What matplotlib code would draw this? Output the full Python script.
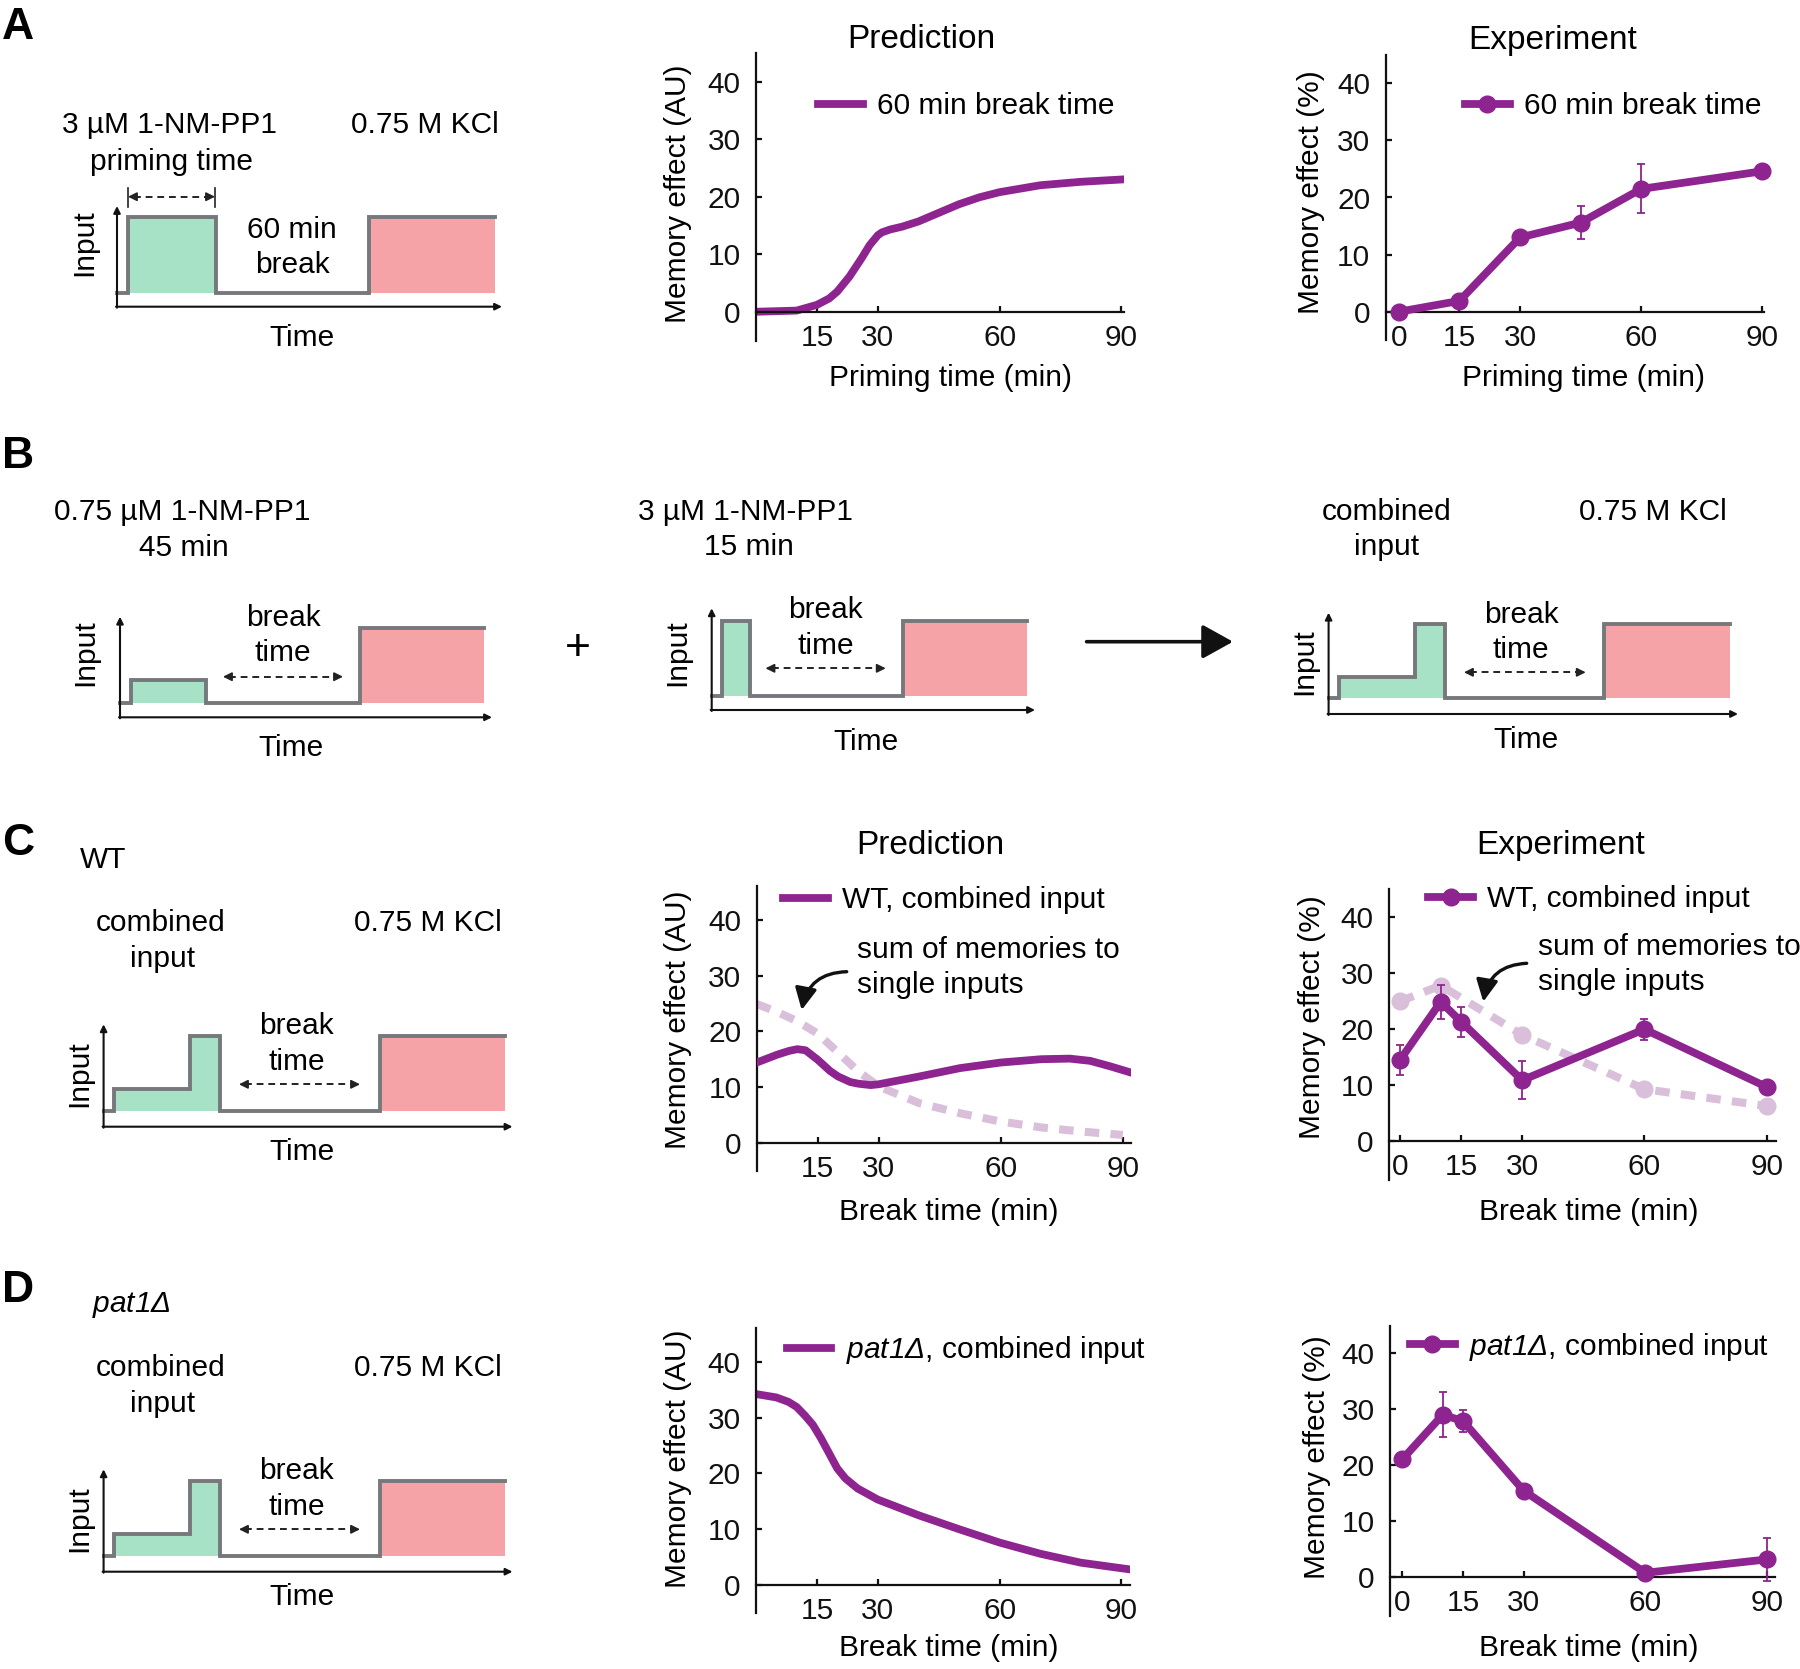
import matplotlib
matplotlib.use("Agg")
import matplotlib.pyplot as plt

plt.rcParams['font.family'] = ['Liberation Sans', 'DejaVu Sans']
plt.rcParams['mathtext.fontset'] = 'custom'
plt.rcParams['mathtext.rm'] = 'Liberation Sans:italic'
plt.rcParams['mathtext.it'] = 'Liberation Sans:italic'

# ---- data ----
# A: prediction, memory vs priming time (60 min break)
pred_a_t = [0, 10, 15, 18, 20, 23, 26, 28, 30, 31, 33, 36, 40, 45, 50, 55, 60, 70, 80, 90]
pred_a_m = [0, 0.2, 1.2, 2.3, 3.5, 6.1, 9.3, 11.6, 13.3, 13.8, 14.3, 14.8, 15.7, 17.2, 18.7, 19.9, 20.8, 22.0, 22.6, 23.0]
# A: experiment
exp_a_t = [0, 15, 30, 45, 60, 90]
exp_a_m = [0, 1.9, 13.0, 15.6, 21.5, 24.6]
exp_a_err = [0.4, 0.4, 0.6, 2.85, 4.3, 0.4]

# C: prediction, WT combined input and sum of single inputs
pred_c_t = [0, 5, 8, 10, 12, 15, 18, 20, 23, 25, 28, 30, 35, 40, 50, 60, 70, 77, 82, 87, 92]
pred_c_m = [14.4, 15.8, 16.5, 16.8, 16.6, 14.9, 12.9, 11.9, 10.9, 10.6, 10.35, 10.5, 11.2, 11.9, 13.4, 14.4, 15.0, 15.1, 14.7, 13.7, 12.6]
pred_c_sum_t = [0, 5, 10, 15, 20, 25, 30, 40, 50, 60, 70, 80, 90]
pred_c_sum_m = [24.9, 23.5, 21.8, 19.6, 16.2, 12.8, 10.1, 7.1, 5.3, 3.8, 2.75, 2.0, 1.4]
# C: experiment
exp_c_t = [0, 10, 15, 30, 60, 90]
exp_c_m = [14.4, 24.8, 21.25, 10.8, 19.9, 9.6]
exp_c_err = [2.75, 3.05, 2.65, 3.35, 1.85, 0.4]
exp_c_sum_t = [0, 10, 30, 60, 90]
exp_c_sum_m = [24.9, 27.7, 18.9, 9.2, 6.2]

# D: pat1 deletion
pred_d_t = [0, 5, 8, 10, 12, 14, 16, 18, 20, 22, 25, 30, 40, 50, 60, 70, 80, 92]
pred_d_m = [34.2, 33.6, 32.8, 31.9, 30.4, 28.7, 26.3, 23.6, 20.9, 19.1, 17.3, 15.3, 12.5, 10.0, 7.6, 5.6, 4.0, 2.8]
exp_d_t = [0, 10, 15, 30, 60, 90]
exp_d_m = [21.0, 29.0, 27.9, 15.4, 0.7, 3.1]
exp_d_err = [0.4, 4.0, 2.05, 0.4, 0.4, 3.9]

pred_ticks = [15, 30, 60, 90]
exp_ticks = [0, 15, 30, 60, 90]
y_ticks = [0, 10, 20, 30, 40]

W, H = 1800, 1669
PURPLE = '#8e248f'
LIGHT = '#d9bfda'
GREEN = '#a8e2c6'
RED = '#f5a3a7'
GRAY = '#76787b'
FS = 21.5
LW = 5.6

fig = plt.figure(figsize=(W / 100, H / 100), dpi=100)
cv = fig.add_axes([0, 0, 1, 1])
cv.set_xlim(0, W)
cv.set_ylim(H, 0)
cv.axis('off')


def txt(s, x, y, size=FS, **kw):
    kw.setdefault('ha', 'center')
    kw.setdefault('va', 'center')
    cv.text(x, y, s, fontsize=size, **kw)


def px_axes(left, top, right, bottom):
    return fig.add_axes([left / W, 1 - bottom / H, (right - left) / W, (bottom - top) / H])


def setup(ax, xlim, ylim, xticks):
    ax.set_facecolor('none')
    ax.set_xlim(*xlim)
    ax.set_ylim(*ylim)
    ax.spines['top'].set_visible(False)
    ax.spines['right'].set_visible(False)
    ax.spines['bottom'].set_position(('data', 0))
    for s in ['left', 'bottom']:
        ax.spines[s].set_linewidth(1.6)
        ax.spines[s].set_color('#111111')
    ax.set_xticks(xticks)
    ax.set_yticks(y_ticks)
    ax.tick_params(direction='in', length=4, width=1.6, labelsize=FS, colors='#111111')
    ax.tick_params(axis='x', pad=8.5)
    ax.tick_params(axis='y', pad=11)


def legend(ax, handle, label, x, y, hl=1.5, tp=0.48):
    ax.legend([handle], [label], loc='center left', bbox_to_anchor=(x, y),
              bbox_transform=cv.transData, frameon=False, fontsize=FS,
              handlelength=hl, handletextpad=tp, borderpad=0, borderaxespad=0)


def dbl_arrow(xa, xb, y):
    cv.plot([xa + 6, xb - 6], [y, y], color='#222222', lw=1.4, dashes=(3.5, 2.5))
    for a, b in [(xa + 8, xa), (xb - 8, xb)]:
        cv.annotate('', xy=(b, y), xytext=(a, y),
                    arrowprops=dict(arrowstyle='-|>', lw=1.2, color='#222222',
                                    mutation_scale=13, shrinkA=0, shrinkB=0))


def curved_arrow(start, end):
    cv.annotate('', xy=end, xytext=start,
                arrowprops=dict(arrowstyle='-|>,head_length=1.1,head_width=0.55', lw=2.4,
                                color='#111111', mutation_scale=12,
                                connectionstyle='arc3,rad=0.4', shrinkA=0, shrinkB=0))


def schematic(x0, x_end, y_top, y_bot, edges, levels, fills):
    base = levels[0]
    for a, b, lev, col in fills:
        cv.fill_between([a, b], base, lev, color=col, lw=0, zorder=1)
    xs, ys = [], []
    for i, lev in enumerate(levels):
        xs += [edges[i], edges[i + 1]]
        ys += [lev, lev]
    cv.plot(xs, ys, color=GRAY, lw=2.8, zorder=2, solid_joinstyle='miter')
    ap = dict(arrowstyle='-|>', lw=1.5, color='#111111', mutation_scale=10, shrinkA=0, shrinkB=0)
    cv.annotate('', xy=(x0, y_top), xytext=(x0, y_bot + 1), arrowprops=ap)
    cv.annotate('', xy=(x_end, y_bot), xytext=(x0 - 1, y_bot), arrowprops=ap)


# ---------------- panel letters ----------------
for lab, yb in [('A', 39), ('B', 468), ('C', 855), ('D', 1302)]:
    cv.text(2, yb, lab, fontsize=32, fontweight='bold', ha='left', va='baseline')

# ---------------- A schematic ----------------
schematic(117, 502, 206, 306.7, [117, 128, 216, 369, 495], [292.7, 217.3, 292.7, 217.3],
          [(128, 216, 217.3, GREEN), (369, 495, 217.3, RED)])
dbl_arrow(128, 215, 196.7)
for xb in [128, 215]:
    cv.plot([xb, xb], [188, 206.7], color='#222222', lw=1.2)
txt('3 \u00b5M 1-NM-PP1', 170, 125)
txt('priming time', 172, 162)
txt('0.75 M KCl', 425, 125)
txt('60 min', 292, 230)
txt('break', 292, 265)
txt('Input', 84, 243, rotation=90)
txt('Time', 302, 338)

# ---------------- B schematics ----------------
schematic(120, 492, 616.7, 717.3, [120, 130.5, 206, 360, 484], [703.3, 680, 703.3, 628.3],
          [(130.5, 206, 680, GREEN), (360, 484, 628.3, RED)])
dbl_arrow(223, 343, 676.7)
txt('0.75 \u00b5M 1-NM-PP1', 182, 511.7)
txt('45 min', 184, 548.3)
txt('break', 283, 618.3)
txt('time', 283, 652.7)
txt('Input', 85, 652.7, rotation=90)
txt('Time', 291, 748.3)
txt('+', 578, 648.3, size=32)

schematic(711.7, 1035, 608.3, 710, [711.7, 722, 749.7, 902.7, 1026.5], [695.7, 621, 695.7, 621],
          [(722, 749.7, 621, GREEN), (902.7, 1026.5, 621, RED)])
dbl_arrow(765.5, 885.7, 668.3)
txt('3 \u00b5M 1-NM-PP1', 745.7, 511.7)
txt('15 min', 748.5, 547.3)
txt('break', 825.6, 610)
txt('time', 825.6, 646)
txt('Input', 677, 652.7, rotation=90)
txt('Time', 866, 741.7)
cv.annotate('', xy=(1233, 641.7), xytext=(1086.6, 641.7),
            arrowprops=dict(arrowstyle='-|>,head_length=1.35,head_width=0.75', lw=2.6,
                            color='#111111', mutation_scale=14, shrinkA=0, shrinkB=0))

schematic(1328.6, 1738, 612.7, 714, [1328.6, 1339.3, 1415, 1444.6, 1604.3, 1730],
          [698.3, 676.7, 624, 698.3, 624],
          [(1339.3, 1415, 676.7, GREEN), (1415, 1444.6, 624, GREEN), (1604.3, 1730, 624, RED)])
dbl_arrow(1464, 1585.7, 672.3)
txt('combined', 1386.4, 511.7)
txt('input', 1387, 546.7)
txt('0.75 M KCl', 1652.5, 511.7)
txt('break', 1521, 615)
txt('time', 1521, 650)
txt('Input', 1304, 661.7, rotation=90)
txt('Time', 1525.7, 740)

# ---------------- C and D schematics ----------------
for dy, strain, sx in [(-445, 'WT', 80), (0, r'$pat1\Delta$', 92)]:
    schematic(103.6, 512.5, 1469.3 + dy, 1571.7 + dy, [103.6, 114.3, 190, 219.6, 380.4, 505.4],
              [1556 + dy, 1534 + dy, 1481 + dy, 1556 + dy, 1481 + dy],
              [(114.3, 190, 1534 + dy, GREEN), (190, 219.6, 1481 + dy, GREEN),
               (380.4, 505.4, 1481 + dy, RED)])
    dbl_arrow(239, 360, 1529.3 + dy)
    txt(strain, sx, 1305 + dy, ha='left')
    txt('combined', 160.7, 1368.3 + dy)
    txt('input', 162.5, 1404.3 + dy)
    txt('0.75 M KCl', 428, 1368.3 + dy)
    txt('break', 296.4, 1470.7 + dy)
    txt('time', 296.4, 1506.7 + dy)
    txt('Input', 79, 1518.3 + dy, rotation=90)
    txt('Time', 301.8, 1597.3 + dy)

# ---------------- A prediction ----------------
ax = px_axes(756, 53, 1123.5, 340.5)
setup(ax, (0, 90.5), (-5, 45), pred_ticks)
h, = ax.plot(pred_a_t, pred_a_m, color=PURPLE, lw=LW)
legend(ax, h, '60 min break time', 818, 106)
txt('Prediction', 921.7, 40, size=24)
txt('Memory effect (AU)', 678, 194, rotation=90)
txt('Priming time (min)', 950.8, 378)

# ---------------- A experiment ----------------
ax = px_axes(1385.5, 54.7, 1764.4, 340.3)
setup(ax, (-3.3, 90.5), (-5, 45), exp_ticks)
ax.errorbar(exp_a_t, exp_a_m, yerr=exp_a_err, fmt='none', ecolor=PURPLE, elinewidth=1.3,
            capsize=3, capthick=1.3, zorder=4)
h, = ax.plot(exp_a_t, exp_a_m, color=PURPLE, lw=LW, marker='o', ms=12, zorder=3, clip_on=False)
legend(ax, h, '60 min break time', 1465, 106)
txt('Experiment', 1552.5, 40, size=24)
txt('Memory effect (%)', 1311, 191.7, rotation=90)
txt('Priming time (min)', 1584, 378)

# ---------------- C prediction ----------------
ax = px_axes(756.7, 886.5, 1130.9, 1170.6)
setup(ax, (0, 92), (-5, 46), pred_ticks)
ax.plot(pred_c_sum_t, pred_c_sum_m, color=LIGHT, lw=5.8, dashes=(1.8, 1.4), zorder=2)
h, = ax.plot(pred_c_t, pred_c_m, color=PURPLE, lw=LW, zorder=3)
legend(ax, h, 'WT, combined input', 783.3, 900)
txt('Prediction', 930, 845, size=24)
txt('Memory effect (AU)', 678.3, 1020, rotation=90)
txt('Break time (min)', 949, 1211.7)
txt('sum of memories to', 857, 950, ha='left')
txt('single inputs', 857, 985, ha='left')
curved_arrow((846.7, 971.7), (801.7, 1010))

# ---------------- C experiment ----------------
ax = px_axes(1389, 888.7, 1776, 1179.9)
setup(ax, (-2.7, 92.3), (-7, 45), exp_ticks)
ax.plot(exp_c_sum_t, exp_c_sum_m, color=LIGHT, lw=5.8, dashes=(1.8, 1.4), marker='o', ms=12,
        zorder=2, clip_on=False)
ax.errorbar(exp_c_t, exp_c_m, yerr=exp_c_err, fmt='none', ecolor=PURPLE, elinewidth=1.3,
            capsize=3, capthick=1.3, zorder=4)
h, = ax.plot(exp_c_t, exp_c_m, color=PURPLE, lw=LW, marker='o', ms=12, zorder=3, clip_on=False)
legend(ax, h, 'WT, combined input', 1428.3, 899.3)
txt('Experiment', 1560.8, 845, size=24)
txt('Memory effect (%)', 1311.7, 1017.5, rotation=90)
txt('Break time (min)', 1588.8, 1211.7)
txt('sum of memories to', 1538, 946.7, ha='left')
txt('single inputs', 1538, 981.7, ha='left')
curved_arrow((1526.7, 963.3), (1483.3, 1001.7))

# ---------------- D prediction ----------------
ax = px_axes(756, 1328.2, 1129.5, 1612.9)
setup(ax, (0, 92), (-5, 46), pred_ticks)
h, = ax.plot(pred_d_t, pred_d_m, color=PURPLE, lw=LW)
legend(ax, h, r'$pat1\Delta$, combined input', 786.7, 1350)
txt('Memory effect (AU)', 678, 1459, rotation=90)
txt('Break time (min)', 949, 1648.3)

# ---------------- D experiment ----------------
ax = px_axes(1390, 1325.5, 1775, 1615.8)
setup(ax, (-3, 92), (-7, 45), exp_ticks)
ax.errorbar(exp_d_t, exp_d_m, yerr=exp_d_err, fmt='none', ecolor=PURPLE, elinewidth=1.3,
            capsize=3, capthick=1.3, zorder=4)
h, = ax.plot(exp_d_t, exp_d_m, color=PURPLE, lw=LW, marker='o', ms=12, zorder=3, clip_on=False)
legend(ax, h, r'$pat1\Delta$, combined input', 1410, 1346.7)
txt('Memory effect (%)', 1316.7, 1456.7, rotation=90)
txt('Break time (min)', 1589, 1648.3)

fig.savefig('out.png', dpi=100)
